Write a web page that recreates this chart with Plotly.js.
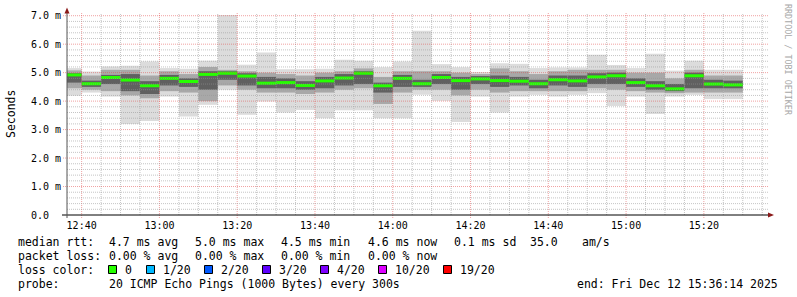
<!DOCTYPE html>
<html>
<head>
<meta charset="utf-8">
<script src="https://cdn.plot.ly/plotly-3.0.1.min.js"></script>
<style>html,body{margin:0;padding:0;background:#fff;}#chart{width:797px;height:297px;}</style>
</head>
<body>
<div id="chart"></div>
<script>
// ---- data ----
const day = "2025-12-12";
const rangeStart = "2025-12-12 12:36:14";
const rangeEnd = "2025-12-12 15:36:14";
const intervalEnds = ["12:40","12:45","12:50","12:55","13:00","13:05","13:10","13:15","13:20","13:25",
  "13:30","13:35","13:40","13:45","13:50","13:55","14:00","14:05","14:10","14:15",
  "14:20","14:25","14:30","14:35","14:40","14:45","14:50","14:55","15:00","15:05",
  "15:10","15:15","15:20","15:25","15:30"];
const medianRtt = [4.92,4.61,4.83,4.74,4.54,4.80,4.69,4.94,4.98,4.88,
  4.63,4.65,4.55,4.71,4.81,4.98,4.54,4.80,4.61,4.83,
  4.72,4.78,4.72,4.70,4.61,4.75,4.71,4.85,4.89,4.65,
  4.54,4.43,4.89,4.60,4.57];
const minRtt = [4.19,4.30,4.16,3.20,3.30,4.16,3.46,3.87,4.40,3.52,
  3.99,3.60,3.69,3.40,3.68,3.68,3.40,3.40,4.22,4.01,
  3.27,4.16,3.60,4.16,4.22,4.16,4.22,4.28,3.83,4.16,
  3.55,4.16,4.22,4.07,4.07];
const maxRtt = [5.16,5.04,5.22,5.24,5.39,5.16,5.14,5.42,7.03,5.28,
  5.71,5.12,5.12,5.14,5.45,5.42,5.19,5.39,6.47,5.30,
  5.19,5.02,5.33,5.31,5.16,5.18,5.18,5.63,5.27,5.16,
  5.66,5.07,5.42,5.10,5.10];
const lowRtt = [4.45,4.40,4.35,4.20,4.10,4.35,4.30,4.00,4.55,4.40,
  4.30,4.30,4.25,4.30,4.40,4.45,3.90,4.30,4.40,4.40,
  4.20,4.40,4.30,4.35,4.35,4.35,4.35,4.45,4.40,4.35,
  4.30,4.28,4.30,4.30,4.30];
const highRtt = [5.08,4.90,5.10,5.10,4.90,5.05,4.95,5.20,5.10,5.05,
  5.00,4.95,4.90,5.00,5.05,5.15,4.85,5.05,5.05,5.05,
  5.00,4.95,5.15,5.05,4.95,5.05,5.10,5.10,5.10,5.00,
  5.00,4.80,5.10,4.90,4.90];
const coreLow = [4.65,4.50,4.60,4.35,4.25,4.55,4.50,4.40,4.75,4.55,
  4.45,4.45,4.40,4.45,4.55,4.60,4.30,4.50,4.50,4.60,
  4.40,4.60,4.50,4.55,4.45,4.55,4.50,4.60,4.60,4.50,
  4.40,4.35,4.45,4.45,4.45];
const coreHigh = [4.98,4.72,4.92,4.95,4.70,4.92,4.80,5.05,5.05,4.98,
  4.85,4.80,4.70,4.85,4.95,5.05,4.65,4.92,4.75,4.95,
  4.85,4.88,4.90,4.85,4.75,4.90,4.90,4.98,5.00,4.80,
  4.70,4.60,5.00,4.75,4.72];
const yTickVals = [0,1,2,3,4,5,6,7];
const yTickText = ["0.0\u00a0\u00a0","1.0 m","2.0 m","3.0 m","4.0 m","5.0 m","6.0 m","7.0 m"];
const lossLabels = ["0","1/20","2/20","3/20","4/20","10/20","19/20"];
const lossColors = ["#26ff00","#00b8ff","#0059ff","#5e00ff","#7e00ff","#dd00ff","#ff0000"];

// ---- helpers ----
const W = 797, H = 297, L = 67, R = 767, T = 15, B = 215;
const px = x => (x - L) / (R - L);
const py = y => (B - y) / (B - T);
const xs = intervalEnds.map(t => day + " " + t + ":00");
const stepMs = 300000;
const MONO = "DejaVu Sans Mono";

function band(lo, hi, color) {
  return {
    type: "bar", x: xs, base: lo, y: hi.map((v, i) => v - lo[i]),
    width: stepMs, offset: -stepMs,
    marker: {color: color, line: {width: 0}},
    hoverinfo: "skip", showlegend: false
  };
}
const halfLine = 0.053;
const traces = [
  band(minRtt, maxRtt, "#dcdcdc"),
  band(lowRtt, highRtt, "#a8a8a8"),
  band(coreLow, coreHigh, "#606060"),
  band(medianRtt.map(v => v - halfLine), medianRtt.map(v => v + halfLine), lossColors[0])
];

// ---- grid as shapes drawn above the smoke (as rrdtool does) ----
const shapes = [];
const minorCol = "rgba(150,150,150,0.55)", majorCol = "rgba(225,70,70,0.5)";
function toMin(s){ const p = s.split(":"); return (+p[0])*60 + (+p[1]); }
function fmt(m){ const h = Math.floor(m/60), mm = m%60; return day + " " + String(h).padStart(2,"0") + ":" + String(mm).padStart(2,"0") + ":00"; }
const gStart = toMin("12:40"), gEnd = toMin("15:35");
for (let m = gStart; m <= gEnd; m += 5) {
  const major = (m % 20) === 0;
  shapes.push({type:"line", layer:"above", xref:"x", yref:"paper", x0: fmt(m), x1: fmt(m),
    y0: major ? py(218) : 0, y1: py(13),
    line:{color: major ? majorCol : minorCol, width:1, dash:"1px,1px"}});
}
for (let k = 1; k <= 35; k++) {
  const v = k * 0.2, major = (k % 5) === 0;
  shapes.push({type:"line", layer:"above", xref:"paper", yref:"y", x0: major ? px(63) : 0, x1: px(768),
    y0: v, y1: v, line:{color: major ? majorCol : minorCol, width:1, dash:"1px,1px"}});
}
// axes with arrows
shapes.push({type:"line", layer:"above", xref:"paper", yref:"paper", x0:px(62), x1:px(769), y0:0, y1:0, line:{color:"#000", width:1}});
shapes.push({type:"line", layer:"above", xref:"paper", yref:"paper", x0:0, x1:0, y0:py(218), y1:py(12), line:{color:"#555", width:1}});
shapes.push({type:"path", layer:"above", xref:"paper", yref:"paper",
  path:`M ${px(768)} ${py(212.5)} L ${px(774)} ${py(215)} L ${px(768)} ${py(217.5)} Z`,
  fillcolor:"#8b1a1a", line:{width:0}});
shapes.push({type:"path", layer:"above", xref:"paper", yref:"paper",
  path:`M ${px(64.5)} ${py(13.5)} L ${px(67)} ${py(7.5)} L ${px(69.5)} ${py(13.5)} Z`,
  fillcolor:"#8b1a1a", line:{width:0}});

// ---- legend text ----
const annotations = [];
function ann(text, x, y, o) {
  annotations.push(Object.assign({text: text, xref:"paper", yref:"paper", x: px(x), y: py(y),
    xanchor:"left", yanchor:"middle", showarrow:false, font:{family:MONO, size:11.5, color:"#000"}}, o || {}));
}
const r1 = 242, r2 = 256, r3 = 270, r4 = 284;
ann("median rtt:", 16, r1); ann("4.7 ms avg", 107, r1); ann("5.0 ms max", 193, r1);
ann("4.5 ms min", 279, r1); ann("4.6 ms now", 366, r1); ann("0.1 ms sd", 452, r1);
ann("35.0", 528, r1); ann("am/s", 580, r1);
ann("packet loss:", 16, r2); ann("0.00 % avg", 107, r2); ann("0.00 % max", 193, r2);
ann("0.00 % min", 279, r2); ann("0.00 % now", 366, r2);
ann("loss color:", 16, r3);
const swX = [108,146,204,262,320,378,443];
lossLabels.forEach((lab, i) => {
  shapes.push({type:"rect", xref:"paper", yref:"paper", layer:"above",
    x0: px(swX[i] + 0.5), x1: px(swX[i] + 8.5), y0: py(273.5), y1: py(265.5),
    fillcolor: lossColors[i], line:{color:"#000", width:1}});
  ann(lab, swX[i] + 14.5, r3);
});
ann("probe:", 16, r4); ann("20 ICMP Echo Pings (1000 Bytes) every 300s", 107, r4);
ann("end: Fri Dec 12 15:36:14 2025", 780, r4, {xanchor:"right"});
ann("Seconds", 11, 114, {xanchor:"center", textangle:-90});
ann("RRDTOOL / TOBI OETIKER", 788, 60, {xanchor:"center", textangle:90, font:{family:MONO, size:8.4, color:"#a8a8a8"}});

const layout = {
  width: W, height: H, margin: {l: L, r: W - R, t: T, b: H - B, pad: 0},
  paper_bgcolor: "#fff", plot_bgcolor: "#fff",
  font: {family: MONO, size: 10, color: "#000"},
  barmode: "overlay", showlegend: false,
  xaxis: {type: "date", range: [rangeStart, rangeEnd], tick0: day + " 12:40:00", dtick: 20*60*1000,
    tickformat: "%H:%M", showgrid: false, zeroline: false, showline: false, ticks: "",
    ticklabelstandoff: 3, tickfont: {family: MONO, size: 10, color: "#000"}, fixedrange: true},
  yaxis: {range: [0, 7.025], tickvals: yTickVals, ticktext: yTickText, showgrid: false,
    zeroline: false, showline: false, ticks: "", ticklabelstandoff: 5,
    tickfont: {family: MONO, size: 10, color: "#000"}, fixedrange: true},
  shapes: shapes, annotations: annotations
};
Plotly.newPlot("chart", traces, layout, {staticPlot: true, displayModeBar: false});
</script>
</body>
</html>
